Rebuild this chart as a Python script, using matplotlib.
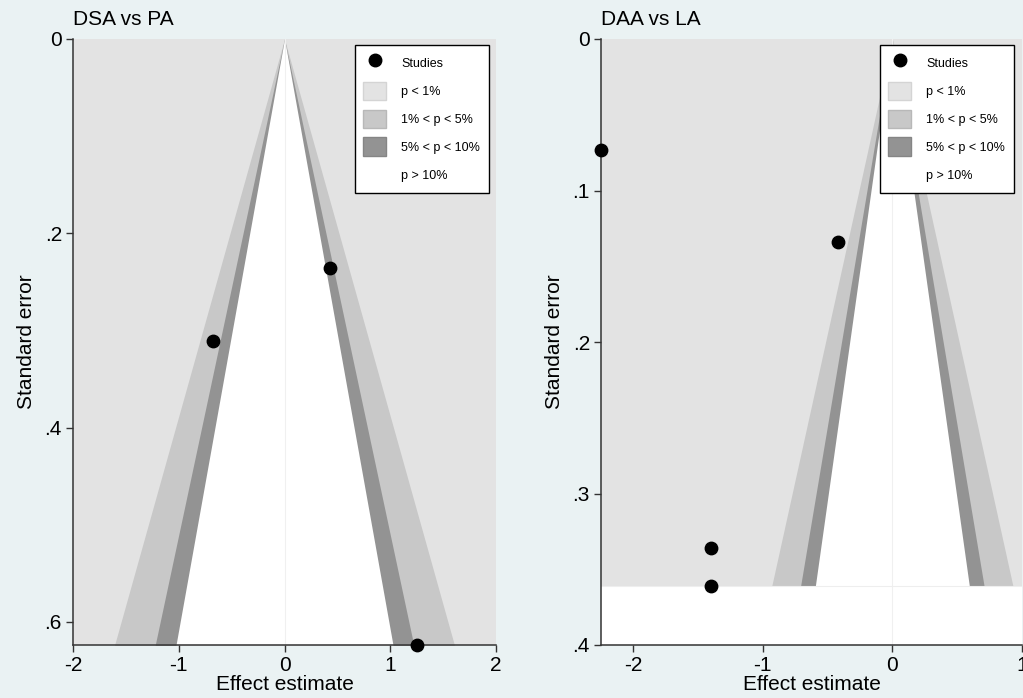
import matplotlib

matplotlib.use("Agg")
import matplotlib.pyplot as plt
import numpy as np
from matplotlib.lines import Line2D
from matplotlib.patches import Patch

# data
dsa_effect = [-0.68, 0.43, 1.25]
dsa_se = [0.311, 0.236, 0.624]
daa_effect = [-2.25, -0.42, -1.40, -1.40]
daa_se = [0.073, 0.134, 0.336, 0.361]

z_levels = [2.576, 1.96, 1.645]   # p = 1%, 5%, 10%
shade_colors = ["#e3e3e3", "#c8c8c8", "#939393", "#ffffff"]
edge_colors = ["#d4d4d4", "#b8b8b8", "#858585", "#ffffff"]
legend_labels = ["p < 1%", "1% < p < 5%", "5% < p < 10%", "p > 10%"]

BG = "#eaf2f3"

plt.rcParams.update({
    "font.family": ["Liberation Sans", "DejaVu Sans"],
    "font.size": 15,
})


def fmt_tick(v):
    s = f"{v:g}"
    if s.startswith("0."):
        s = s[1:]
    return s


def funnel(ax, effect, se, xlim, ylim, xticks, yticks, title, leg_anchor):
    se_max = max(se)
    ax.set_facecolor("white")
    # p < 1% region: the whole band from 0 to max SE
    ax.fill_betweenx([0, se_max], xlim[0], xlim[1], color=shade_colors[0], lw=0)
    s = np.array([0, se_max])
    for z, c in zip(z_levels, shade_colors[1:]):
        ax.fill_betweenx(s, -z * s, z * s, color=c, lw=0)
    ax.axvline(0, color="#f0f0f0", lw=0.8, zorder=1.5)
    ax.axhline(se_max, color="#eeeeee", lw=0.8, zorder=1.5)

    ax.scatter(effect, se, s=80, color="black", zorder=5, clip_on=False)

    ax.set_xlim(*xlim)
    ax.set_ylim(ylim[1], ylim[0])
    ax.set_xticks(xticks)
    ax.set_xticklabels([f"{t:g}" for t in xticks])
    ax.set_yticks(yticks)
    ax.set_yticklabels([fmt_tick(t) for t in yticks])
    ax.tick_params(direction="out", length=5, width=1, color="#333333",
                   labelsize=15, pad=3)
    for side in ("top", "right"):
        ax.spines[side].set_visible(False)
    for side in ("left", "bottom"):
        ax.spines[side].set_color("#333333")
        ax.spines[side].set_linewidth(1.1)
    ax.set_xlabel("Effect estimate", fontsize=15, labelpad=0)
    ax.set_ylabel("Standard error", fontsize=15, labelpad=6)
    ax.set_title(title, loc="left", fontsize=15, pad=10)

    handles = [Line2D([], [], marker="o", ls="none", color="black", markersize=9)]
    handles += [Patch(facecolor=fc, edgecolor=ec, lw=1)
                for fc, ec in zip(shade_colors, edge_colors)]
    leg = ax.legend(handles, ["Studies"] + legend_labels, loc="upper right",
                    bbox_to_anchor=leg_anchor, borderaxespad=0, fontsize=9,
                    frameon=True, fancybox=False, handlelength=1.85,
                    handleheight=1.9, labelspacing=0.75, handletextpad=1.2,
                    borderpad=0.7)
    leg.get_frame().set_edgecolor("black")
    leg.get_frame().set_linewidth(1.0)
    leg.get_frame().set_alpha(1)
    leg.set_zorder(10)


fig = plt.figure(figsize=(10.23, 6.98), dpi=100, facecolor=BG)
H = 698
W = 1023
ax1 = fig.add_axes([73 / W, (H - 645) / H, 423 / W, 606 / H])
ax2 = fig.add_axes([601 / W, (H - 645) / H, 421 / W, 606 / H])

funnel(ax1, dsa_effect, dsa_se, (-2, 2), (0, 0.6237), [-2, -1, 0, 1, 2],
       [0, 0.2, 0.4, 0.6], "DSA vs PA", (1 - 7 / 423, 1 - 6 / 606))
funnel(ax2, daa_effect, daa_se, (-2.247, 1.0), (0, 0.4), [-2, -1, 0, 1],
       [0, 0.1, 0.2, 0.3, 0.4], "DAA vs LA", (1 - 8 / 421, 1 - 6 / 606))

fig.savefig("out.png", dpi=100, facecolor=BG)
